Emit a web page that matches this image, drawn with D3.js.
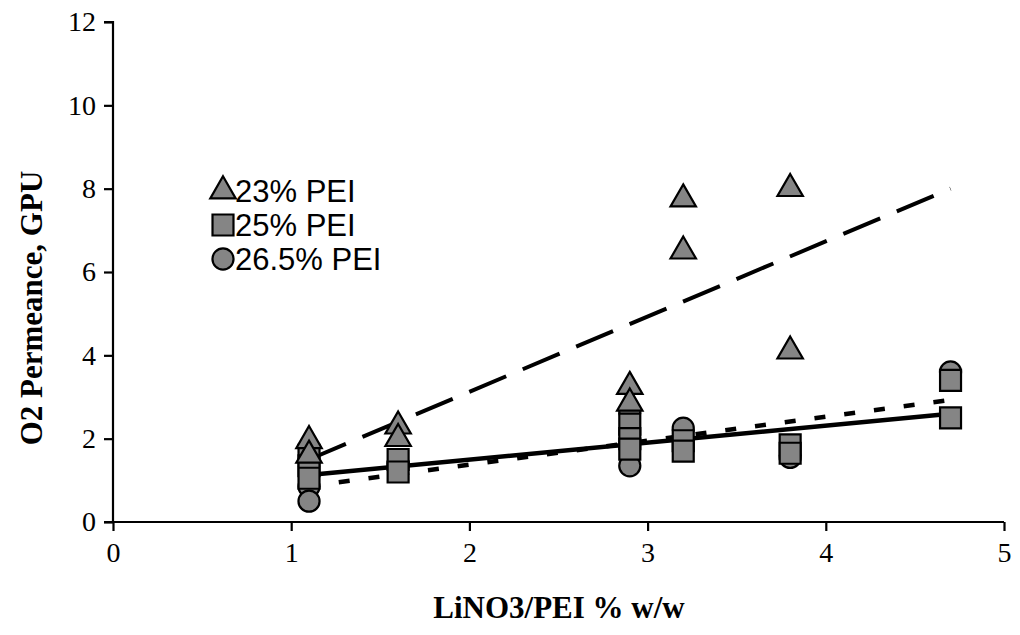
<!DOCTYPE html>
<html>
<head>
<meta charset="utf-8">
<script src="https://cdn.jsdelivr.net/npm/d3@7"></script>
<style>
  body { margin: 0; background: #fff; }
  .tick text { font-family: "Liberation Serif", "Times New Roman", serif; font-size: 28px; fill: #000; }
  .axis-title { font-family: "Liberation Serif", "Times New Roman", serif; font-size: 31px; font-weight: bold; }
  .legend text { font-family: "Liberation Sans", Arial, sans-serif; font-size: 31px; }
</style>
</head>
<body>
<svg id="chart"></svg>
<script>
var width = 1020, height = 635;

// measured points, LiNO3/PEI (% w/w) vs O2 permeance (GPU)
var pei23X = [1.1, 1.1, 1.6, 1.6, 2.9, 2.9, 3.2, 3.2, 3.8, 3.8];
var pei23Y = [1.95, 1.6, 2.3, 2.0, 3.25, 2.85, 7.75, 6.5, 8.0, 4.1];
var pei25X = [1.1, 1.1, 1.1, 1.6, 1.6, 2.9, 2.9, 2.9, 3.2, 3.2, 3.8, 3.8, 4.7, 4.7];
var pei25Y = [1.6, 1.35, 1.05, 1.5, 1.2, 2.35, 2.0, 1.75, 1.95, 1.7, 1.85, 1.65, 3.4, 2.5];
var pei265X = [1.1, 1.1, 1.6, 2.9, 2.9, 3.2, 3.8, 4.7];
var pei265Y = [0.85, 0.5, 1.4, 2.65, 1.35, 2.25, 1.55, 3.6];

// linear trend lines, end points
var trendX = [1.1, 4.7];
var trend23 = [1.5, 8.0];
var trend25 = [1.13, 2.6];
var trend265 = [0.86, 2.93];

var xTicks = [0, 1, 2, 3, 4, 5];
var yTicks = [0, 2, 4, 6, 8, 10, 12];
var seriesNames = ["23% PEI", "25% PEI", "26.5% PEI"];

var svg = d3.select("#chart")
    .attr("width", width)
    .attr("height", height);

var x = d3.scaleLinear().domain([0, 5]).range([113, 1004]);
var y = d3.scaleLinear().domain([0, 12]).range([522, 22]);

// axes
var xAxis = svg.append("g")
    .attr("transform", `translate(0,${y(0)})`)
    .call(d3.axisBottom(x).tickValues(xTicks).tickSize(9).tickPadding(11).tickFormat(d3.format("d")));
var yAxis = svg.append("g")
    .attr("transform", `translate(${x(0)},0)`)
    .call(d3.axisLeft(y).tickValues(yTicks).tickSize(9).tickPadding(8).tickFormat(d3.format("d")));

[xAxis, yAxis].forEach(function(a) {
    a.select(".domain").attr("stroke", "#000").attr("stroke-width", 2.2);
    a.selectAll(".tick line").attr("stroke", "#000").attr("stroke-width", 2.2);
});
yAxis.select(".domain").attr("d", `M${-9},${y(12)}H0V${y(0)}H${-9}`);
xAxis.select(".domain").attr("d", `M${x(0)},${0}H${x(5)}`);

// trend lines
var line = d3.line().x(d => x(d[0])).y(d => y(d[1]));
svg.append("path")
    .datum(d3.zip(trendX, trend23))
    .attr("d", line).attr("fill", "none").attr("stroke", "#000")
    .attr("stroke-width", 4).attr("stroke-dasharray", "40,18");
svg.append("path")
    .datum(d3.zip(trendX, trend265))
    .attr("d", line).attr("fill", "none").attr("stroke", "#000")
    .attr("stroke-width", 4.5).attr("stroke-dasharray", "11,19");
svg.append("path")
    .datum(d3.zip(trendX, trend25))
    .attr("d", line).attr("fill", "none").attr("stroke", "#000")
    .attr("stroke-width", 4.5);

// markers
var markFill = "#858585";
function drawMarks(xs, ys, shape, size) {
    svg.append("g").selectAll("path")
        .data(d3.zip(xs, ys))
        .enter()
        .append("path")
        .attr("transform", d => `translate(${x(d[0])},${y(d[1])})`)
        .attr("d", d3.symbol().type(shape).size(size))
        .attr("fill", markFill)
        .attr("stroke", "#000")
        .attr("stroke-width", 2.2);
}
drawMarks(pei265X, pei265Y, d3.symbolCircle, 350);
drawMarks(pei25X, pei25Y, d3.symbolSquare, 440);
drawMarks(pei23X, pei23Y, d3.symbolTriangle, 280);

// legend
var legend = svg.append("g").attr("class", "legend");
var legendShapes = [[d3.symbolTriangle, 280], [d3.symbolSquare, 440], [d3.symbolCircle, 350]];
seriesNames.forEach(function(name, i) {
    var ly = 191 + i * 34;
    legend.append("path")
        .attr("transform", `translate(223,${ly})`)
        .attr("d", d3.symbol().type(legendShapes[i][0]).size(legendShapes[i][1]))
        .attr("fill", markFill).attr("stroke", "#000").attr("stroke-width", 2.2);
    legend.append("text")
        .attr("x", 235).attr("y", ly + 11)
        .text(name);
});

// axis titles
svg.append("text")
    .attr("class", "axis-title")
    .attr("text-anchor", "middle")
    .attr("x", 559).attr("y", 618)
    .text("LiNO3/PEI % w/w");
svg.append("text")
    .attr("class", "axis-title")
    .attr("text-anchor", "middle")
    .attr("transform", "translate(42,308) rotate(-90)")
    .text("O2 Permeance, GPU");
</script>
</body>
</html>
